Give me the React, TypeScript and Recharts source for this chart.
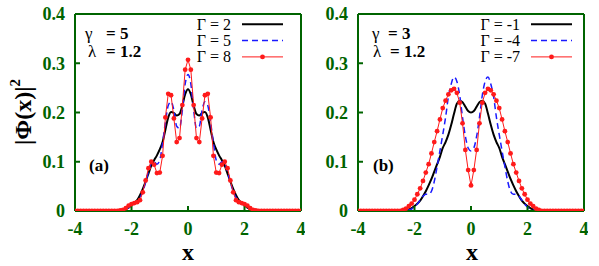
import React from "react";
import { LineChart, Line, XAxis, YAxis } from "recharts";

// x grid, step 0.1 from -4 to 4
const xs = [
  -4, -3.9, -3.8, -3.7, -3.6, -3.5, -3.4, -3.3, -3.2, -3.1, -3, -2.9, -2.8, -2.7, -2.6,
  -2.5, -2.4, -2.3, -2.2, -2.1, -2, -1.9, -1.8, -1.7, -1.6, -1.5, -1.4, -1.3, -1.2, -1.1, -1,
  -0.9, -0.8, -0.7, -0.6, -0.5, -0.4, -0.3, -0.2, -0.1, 0, 0.1, 0.2, 0.3, 0.4, 0.5, 0.6, 0.7,
  0.8, 0.9, 1, 1.1, 1.2, 1.3, 1.4, 1.5, 1.6, 1.7, 1.8, 1.9, 2, 2.1, 2.2, 2.3, 2.4, 2.5,
  2.6, 2.7, 2.8, 2.9, 3, 3.1, 3.2, 3.3, 3.4, 3.5, 3.6, 3.7, 3.8, 3.9, 4,
];

const xTicks = [-4, -2, 0, 2, 4];
const yTicks = [0, 0.1, 0.2, 0.3, 0.4];

// panel (a): gamma = 5, lambda = 1.2
const gamma2 = [
  0, 0, 0, 0, 0, 0, 0, 0, 0, 0, 0, 0, 0, 0, 0,
  0, 0.001, 0.002, 0.004, 0.007, 0.011, 0.016, 0.022, 0.032, 0.045, 0.06, 0.076, 0.092, 0.103, 0.113, 0.125,
  0.14, 0.165, 0.19, 0.201, 0.199, 0.194, 0.197, 0.214, 0.237, 0.247, 0.237, 0.214, 0.197, 0.194, 0.199, 0.201, 0.19,
  0.165, 0.14, 0.125, 0.113, 0.103, 0.092, 0.076, 0.06, 0.045, 0.032, 0.022, 0.016, 0.011, 0.007, 0.004, 0.002, 0.001, 0,
  0, 0, 0, 0, 0, 0, 0, 0, 0, 0, 0, 0, 0, 0, 0,
];
const gamma5 = [
  0, 0, 0, 0, 0, 0, 0, 0, 0, 0, 0, 0, 0, 0, 0,
  0, 0.001, 0.002, 0.004, 0.007, 0.011, 0.015, 0.02, 0.027, 0.04, 0.058, 0.08, 0.097, 0.1, 0.095, 0.103,
  0.138, 0.18, 0.214, 0.222, 0.205, 0.172, 0.168, 0.205, 0.258, 0.277, 0.258, 0.205, 0.168, 0.172, 0.205, 0.222, 0.214,
  0.18, 0.138, 0.103, 0.095, 0.1, 0.097, 0.08, 0.058, 0.04, 0.027, 0.02, 0.015, 0.011, 0.007, 0.004, 0.002, 0.001, 0,
  0, 0, 0, 0, 0, 0, 0, 0, 0, 0, 0, 0, 0, 0, 0,
];
const gamma8 = [
  0, 0, 0, 0, 0, 0, 0, 0, 0, 0, 0, 0, 0, 0, 0,
  0, 0.001, 0.002, 0.006, 0.011, 0.014, 0.016, 0.018, 0.022, 0.038, 0.062, 0.087, 0.1, 0.094, 0.077, 0.078,
  0.112, 0.19, 0.238, 0.235, 0.188, 0.14, 0.148, 0.215, 0.287, 0.307, 0.287, 0.215, 0.148, 0.14, 0.188, 0.235, 0.238,
  0.19, 0.112, 0.078, 0.077, 0.094, 0.1, 0.087, 0.062, 0.038, 0.022, 0.018, 0.016, 0.014, 0.011, 0.006, 0.002, 0.001, 0,
  0, 0, 0, 0, 0, 0, 0, 0, 0, 0, 0, 0, 0, 0, 0,
];

// panel (b): gamma = 3, lambda = 1.2
const gammaM1 = [
  0, 0, 0, 0, 0, 0, 0, 0, 0, 0, 0, 0, 0, 0, 0,
  0, 0, 0.001, 0.003, 0.006, 0.01, 0.015, 0.021, 0.03, 0.04, 0.052, 0.065, 0.08, 0.095, 0.11, 0.128,
  0.14, 0.155, 0.175, 0.198, 0.218, 0.224, 0.221, 0.212, 0.203, 0.2, 0.203, 0.212, 0.221, 0.224, 0.218, 0.198, 0.175,
  0.155, 0.14, 0.128, 0.11, 0.095, 0.08, 0.065, 0.052, 0.04, 0.03, 0.021, 0.015, 0.01, 0.006, 0.003, 0.001, 0, 0,
  0, 0, 0, 0, 0, 0, 0, 0, 0, 0, 0, 0, 0, 0, 0,
];
const gammaM4 = [
  0, 0, 0, 0, 0, 0, 0, 0, 0, 0, 0, 0, 0, 0, 0,
  0, 0, 0.001, 0.002, 0.004, 0.008, 0.014, 0.022, 0.03, 0.034, 0.034, 0.04, 0.06, 0.09, 0.122, 0.155,
  0.19, 0.232, 0.258, 0.272, 0.263, 0.235, 0.19, 0.152, 0.128, 0.122, 0.128, 0.152, 0.19, 0.235, 0.263, 0.272, 0.258,
  0.232, 0.19, 0.155, 0.122, 0.09, 0.06, 0.04, 0.034, 0.034, 0.03, 0.022, 0.014, 0.008, 0.004, 0.002, 0.001, 0, 0,
  0, 0, 0, 0, 0, 0, 0, 0, 0, 0, 0, 0, 0, 0, 0,
];
const gammaM7 = [
  0, 0, 0, 0, 0, 0, 0, 0, 0, 0, 0, 0, 0, 0, 0,
  0, 0.002, 0.005, 0.01, 0.015, 0.023, 0.034, 0.046, 0.061, 0.078, 0.095, 0.117, 0.14, 0.162, 0.186, 0.209,
  0.224, 0.237, 0.245, 0.248, 0.24, 0.22, 0.178, 0.124, 0.083, 0.052, 0.083, 0.124, 0.178, 0.22, 0.24, 0.248, 0.245,
  0.237, 0.224, 0.209, 0.186, 0.162, 0.14, 0.117, 0.095, 0.078, 0.061, 0.046, 0.034, 0.023, 0.015, 0.01, 0.005, 0.002, 0,
  0, 0, 0, 0, 0, 0, 0, 0, 0, 0, 0, 0, 0, 0, 0,
];

const GREEN = "#006400";
const FONT = "Liberation Serif";

const dataA = xs.map((x, i) => ({ x, s1: gamma2[i], s2: gamma5[i], s3: gamma8[i] }));
const dataB = xs.map((x, i) => ({ x, s1: gammaM1[i], s2: gammaM4[i], s3: gammaM7[i] }));

const axisLine = { stroke: GREEN, strokeWidth: 2 };
const tickLine = { stroke: GREEN, strokeWidth: 2 };

const XTick = ({ x, y, payload }: any) => (
  <text x={x} y={y} dy="0.71em" textAnchor="middle" fill={GREEN} fontSize={18} fontWeight="bold" fontFamily={FONT}>
    {String(payload.value)}
  </text>
);

const YTick = ({ x, y, payload }: any) => (
  <text x={x} y={y} dy="0.35em" textAnchor="end" fill={GREEN} fontSize={18} fontWeight="bold" fontFamily={FONT}>
    {String(payload.value)}
  </text>
);

const Panel = ({ data }: { data: any[] }) => (
  <LineChart width={305} height={266} data={data} margin={{ top: 13, right: 3, bottom: 25, left: 0 }}>
    <XAxis
      xAxisId="b"
      type="number"
      dataKey="x"
      domain={[-4, 4]}
      ticks={xTicks}
      height={30}
      tickSize={-5}
      tickMargin={16}
      axisLine={axisLine}
      tickLine={tickLine}
      tick={<XTick />}
      allowDataOverflow
    />
    <XAxis
      xAxisId="t"
      orientation="top"
      type="number"
      dataKey="x"
      domain={[-4, 4]}
      ticks={xTicks}
      height={1}
      tickSize={-5}
      axisLine={axisLine}
      tickLine={tickLine}
      tick={false}
      allowDataOverflow
    />
    <YAxis
      yAxisId="l"
      type="number"
      domain={[0, 0.4]}
      ticks={yTicks}
      width={75}
      tickSize={-5}
      tickMargin={15}
      axisLine={axisLine}
      tickLine={tickLine}
      tick={<YTick />}
      allowDataOverflow
    />
    <YAxis
      yAxisId="r"
      orientation="right"
      type="number"
      domain={[0, 0.4]}
      ticks={yTicks}
      width={1}
      tickSize={-5}
      axisLine={axisLine}
      tickLine={tickLine}
      tick={false}
      allowDataOverflow
    />
    <Line xAxisId="b" yAxisId="l" type="monotone" dataKey="s1" stroke="#000000" strokeWidth={2} dot={false} isAnimationActive={false} />
    <Line xAxisId="b" yAxisId="l" type="monotone" dataKey="s2" stroke="#1a1aff" strokeWidth={1.5} strokeDasharray="6 4" dot={false} isAnimationActive={false} />
    <Line
      xAxisId="b"
      yAxisId="l"
      type="linear"
      dataKey="s3"
      stroke="#ff1a1a"
      strokeWidth={1}
      dot={{ r: 2.4, fill: "#ff1a1a", stroke: "#ff1a1a", strokeWidth: 0 }}
      isAnimationActive={false}
    />
  </LineChart>
);

const Key = ({ x, y, labels }: { x: number; y: number; labels: string[] }) => (
  <g fontFamily={FONT} fontSize={16}>
    {labels.map((l, i) => (
      <text key={l} x={x} y={y + i * 16.3 + 5.5} textAnchor="end" fill="#000">
        {l}
      </text>
    ))}
    <line x1={x + 11} x2={x + 52} y1={y} y2={y} stroke="#000" strokeWidth={2} />
    <line x1={x + 11} x2={x + 52} y1={y + 16.3} y2={y + 16.3} stroke="#1a1aff" strokeWidth={1.5} strokeDasharray="6 4" />
    <line x1={x + 11} x2={x + 52} y1={y + 32.6} y2={y + 32.6} stroke="#ff1a1a" strokeWidth={1} />
    <circle cx={x + 31.5} cy={y + 32.6} r={2.4} fill="#ff1a1a" />
  </g>
);

export default function App() {
  return (
    <div style={{ position: "absolute", left: 0, top: 0, width: 599, height: 266, background: "#fff", fontFamily: FONT }}>
      <div style={{ position: "absolute", left: 0, top: 0 }}>
        <Panel data={dataA} />
      </div>
      <div style={{ position: "absolute", left: 283, top: 0 }}>
        <Panel data={dataB} />
      </div>
      <svg width={599} height={266} style={{ position: "absolute", left: 0, top: 0, pointerEvents: "none" }}>
        <g fontFamily={FONT} fontSize={17} fill="#000">
          <text x={85} y={39}>γ</text>
          <text x={106} y={39} fontWeight="bold">= 5</text>
          <text x={88} y={57}>λ</text>
          <text x={106} y={57} fontWeight="bold">= 1.2</text>
          <text x={89} y={171} fontWeight="bold">(a)</text>
          <text x={372} y={39}>γ</text>
          <text x={388} y={39} fontWeight="bold">= 3</text>
          <text x={373} y={57}>λ</text>
          <text x={390} y={57} fontWeight="bold">= 1.2</text>
          <text x={373} y={171} fontWeight="bold">(b)</text>
        </g>
        <Key x={231} y={24.3} labels={["Γ = 2", "Γ = 5", "Γ = 8"]} />
        <Key x={520} y={24.3} labels={["Γ = -1", "Γ = -4", "Γ = -7"]} />
        <g fontFamily={FONT} fontWeight="bold" fill="#000">
          <text x={188} y={260} fontSize={24} textAnchor="middle">x</text>
          <text x={472} y={260} fontSize={24} textAnchor="middle">x</text>
          <text transform="translate(31,112) rotate(-90)" fontSize={24} textAnchor="middle">
            |Φ(x)|<tspan fontSize={15} dy={-11}>2</tspan>
          </text>
        </g>
      </svg>
    </div>
  );
}
